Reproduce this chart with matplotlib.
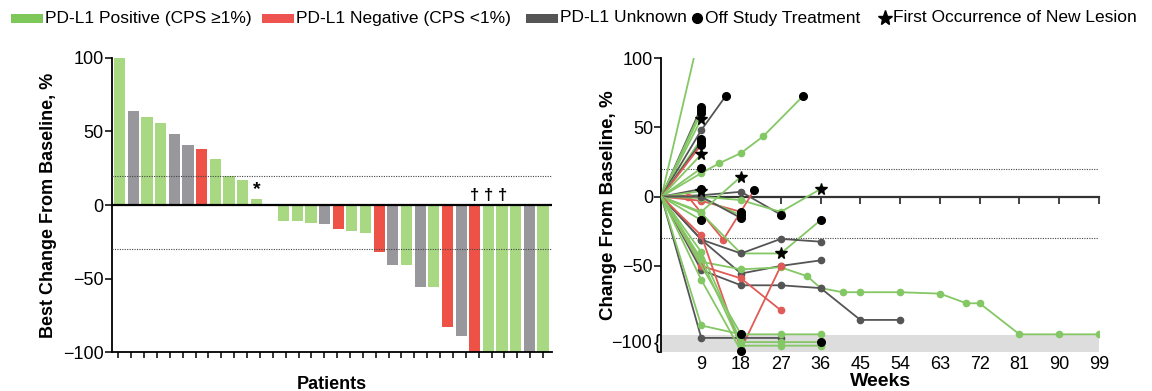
import numpy as np
import matplotlib.pyplot as plt
from matplotlib.lines import Line2D
from matplotlib.patches import Rectangle

plt.rcParams['font.family'] = ['Liberation Sans', 'DejaVu Sans']

# ---- data: waterfall (best change per patient) ----
best_change = [100, 64, 60, 56, 48, 41, 38, 31, 20, 17, 4, 0,
               -11, -11, -12, -13, -16, -18, -19, -32, -41, -41,
               -56, -56, -83, -89, -100, -100, -100, -100, -100, -100]
best_group = ['pos', 'unk', 'pos', 'pos', 'unk', 'unk', 'neg', 'pos', 'pos', 'pos', 'pos', 'pos',
              'pos', 'pos', 'pos', 'unk', 'neg', 'pos', 'pos', 'neg', 'unk', 'pos',
              'unk', 'pos', 'neg', 'unk', 'neg', 'pos', 'pos', 'pos', 'unk', 'pos']
new_lesion_idx = [10]
dagger_idx = [26, 27, 28]

# ---- data: spider plot (change over time per patient) ----
spider_group = ['pos', 'unk', 'pos', 'pos', 'pos', 'unk', 'pos', 'unk', 'neg', 'pos',
                'pos', 'pos', 'unk', 'pos', 'unk', 'pos', 'neg', 'neg', 'pos', 'unk',
                'pos', 'pos', 'pos', 'unk', 'unk', 'pos', 'unk', 'neg', 'neg', 'unk',
                'pos', 'pos', 'pos', 'pos', 'pos']
spider_weeks = [[0, 9], [0, 9], [0, 9], [0, 9], [0, 9], [0, 9, 14.5], [0, 9], [0, 9], [0, 9], [0, 9],
                [0, 9], [0, 9, 13, 18, 23, 32], [0, 9], [0, 9], [0, 9, 18, 27], [0, 9, 18, 27, 36],
                [0, 6, 14, 21], [0, 9, 18], [0, 9, 18], [0, 9, 18], [0, 9], [0, 9, 18],
                [0, 9, 18, 27, 36], [0, 9, 18, 27, 36], [0, 9, 18, 27, 36],
                [0, 9, 18, 27, 33, 36, 41, 45, 54, 63, 69, 72, 81, 90, 99],
                [0, 9, 18, 27, 36, 45, 54], [0, 9, 18, 27], [0, 9, 18, 27], [0, 9, 18, 27],
                [0, 9, 18, 27, 36], [0, 9, 18, 27, 36], [0, 9, 18, 27, 36], [0, 18], [0, 9, 18]]
spider_pct = [[0, 123], [0, 64.5], [0, 62.5], [0, 60.5], [0, 56], [0, 48, 72.5], [0, 41.5], [0, 39.5],
              [0, 37.5], [0, 30.5], [0, 20.5], [0, 17, 24, 31.5, 43.5, 72.5], [0, 5.5], [0, 4],
              [0, 1, 3.5, -13], [0, 0, -2.5, -11, 5.5], [0, 0, -31, 4.8], [0, -3, -11], [0, -1, -13.5],
              [0, 0, -15.5], [0, -17], [0, -11, 14.5], [0, -12, -41, -41, -17], [0, -31, -41, -30.5, -32.5],
              [0, -31, -55.5, -50, -46],
              [0, -47, -52.5, -51, -57.5, -66, -69, -69, -69, -70, -77, -77, -99.4, -99.4, -99.4],
              [0, -53, -64, -64, -66, -89, -89], [0, -50, -59, -82], [0, -28, -110, -50],
              [0, -102, -102, -102], [0, -93, -99.4, -99.4, -99.4], [0, -40, -105, -105, -105],
              [0, -45, -107.6, -107.6, -107.6], [0, -99.4], [0, -60, -111.4]]
spider_star_week = [None, None, None, None, 9, None, None, None, None, 9,
                    None, None, None, 9, None, 36, None, None, None, None,
                    None, 18, 27, None, None, None, None, None, None, None,
                    None, None, None, None, None]
spider_off = [False, True, True, True, False, True, True, True, True, False,
              True, True, True, False, True, False, True, True, True, True,
              True, False, True, False, False, False, False, False, False, False,
              False, True, False, True, True]

week_ticks = [9, 18, 27, 36, 45, 54, 63, 72, 81, 90, 99]

bar_colors = {'pos': '#a8d982', 'neg': '#ee5246', 'unk': '#98979c'}
line_colors = {'pos': '#84c765', 'neg': '#e05a57', 'unk': '#555555'}
legend_colors = {'pos': '#7ec85a', 'neg': '#ef5350', 'unk': '#555555'}

W, H = 1152, 391
fig = plt.figure(figsize=(W / 100, H / 100), dpi=100)

# ---------------- left: waterfall ----------------
ax1 = fig.add_axes([0.0972, 0.0997, 0.382, 0.752])
x = np.arange(len(best_change))
ax1.bar(x, best_change, width=0.82, color=[bar_colors[g] for g in best_group], zorder=2)
ax1.axhline(0, color='black', lw=1.6, zorder=4)
for yv in (20, -30):
    ax1.axhline(yv, color='#444444', lw=0.8, ls=(0, (1, 1.2)), zorder=3)
for i in new_lesion_idx:
    ax1.text(i, best_change[i] + 1, '*', ha='center', va='bottom', fontsize=14, fontweight='bold')
for i in dagger_idx:
    ax1.text(i, 1.5, '\u2020', ha='center', va='bottom', fontsize=12, fontweight='bold')
ax1.set_xlim(-0.57, 31.66)
ax1.set_ylim(-100, 100)
ax1.set_yticks([-100, -50, 0, 50, 100])
ax1.set_xticks(np.linspace(-0.1, 31.0, 34))
ax1.set_xticklabels([])
ax1.tick_params(axis='x', length=4, width=1.1, direction='out')
ax1.tick_params(axis='y', length=5, width=1.1, labelsize=13, pad=1)
for s in ('top', 'right'):
    ax1.spines[s].set_visible(False)
for s in ('left', 'bottom'):
    ax1.spines[s].set_linewidth(1.3)
ax1.set_ylabel('Best Change From Baseline, %', fontsize=13, fontweight='bold', labelpad=4)
ax1.set_xlabel('Patients', fontsize=13, fontweight='bold', labelpad=10)

# ---------------- right: spider ----------------
ax2 = fig.add_axes([0.5742, 0.1003, 0.3798, 0.751])
ax2.axhspan(-112, -100, color='#dddddd', zorder=0, lw=0)
for yv in (20, -30):
    ax2.axhline(yv, color='#444444', lw=0.8, ls=(0, (1, 1.2)), zorder=1)

for g, w, v, sw, off in zip(spider_group, spider_weeks, spider_pct, spider_star_week, spider_off):
    c = line_colors[g]
    ax2.plot(w, v, color=c, lw=1.3, marker='o', ms=4.5, markevery=list(range(1, len(w))), zorder=3)
    if sw is not None:
        ax2.plot(sw, v[w.index(sw)], marker='*', ms=8.5, color='black', ls='', zorder=5, clip_on=False)
    if off:
        ax2.plot(w[-1], v[-1], marker='o', ms=5.5, color='black', ls='', zorder=5, clip_on=False)

ax2.set_xlim(0, 99)
ax2.set_ylim(-112, 100)
ax2.spines['bottom'].set_position(('data', 0))
ax2.spines['bottom'].set_linewidth(1.6)
ax2.spines['bottom'].set_color('#333333')
ax2.spines['left'].set_linewidth(1.3)
for s in ('top', 'right'):
    ax2.spines[s].set_visible(False)
ax2.set_xticks(week_ticks)
ax2.tick_params(axis='x', length=5, width=1.3, color='#333333', labelbottom=False)
ax2.set_yticks([-50, 0, 50, 100])
ax2.tick_params(axis='y', length=5, width=1.1, labelsize=13, pad=1)
ytr = ax2.get_yaxis_transform()
ax2.text(-0.022, -106, '\u2212100', transform=ytr, ha='right', va='center', fontsize=13)
ax2.text(-0.003, -106, '{', transform=ytr, ha='right', va='center', fontsize=15, fontweight='light')

sec = ax2.secondary_xaxis('bottom')
sec.spines['bottom'].set_visible(False)
sec.set_xticks(week_ticks)
sec.tick_params(length=0, labelsize=13, pad=3)
sec.set_xlabel('Weeks', fontsize=14, fontweight='bold', labelpad=0)
ax2.set_ylabel('Change From Baseline, %', fontsize=13.5, fontweight='bold', labelpad=4)

# ---------------- legend (single row along the top) ----------------
leg_y = 1 - 18 / H
patch_items = [('pos', 'PD-L1 Positive (CPS \u22651%)', 11),
               ('neg', 'PD-L1 Negative (CPS <1%)', 262),
               ('unk', 'PD-L1 Unknown', 526)]
for key, label, x0 in patch_items:
    fig.add_artist(Rectangle((x0 / W, leg_y - 4.5 / H), 32 / W, 9 / H, transform=fig.transFigure,
                             color=legend_colors[key], lw=0))
    fig.text((x0 + 34) / W, leg_y, label, ha='left', va='center', fontsize=12.5)
marker_items = [('o', 7, 'Off Study Treatment', 697),
                ('*', 11, 'First Occurrence of New Lesion', 885)]
for mk, ms, label, x0 in marker_items:
    fig.add_artist(Line2D([x0 / W], [leg_y], marker=mk, ms=ms, color='black', ls='',
                          transform=fig.transFigure))
    fig.text((x0 + 8) / W, leg_y, label, ha='left', va='center', fontsize=12.5)

fig.savefig('out.png', dpi=100)
